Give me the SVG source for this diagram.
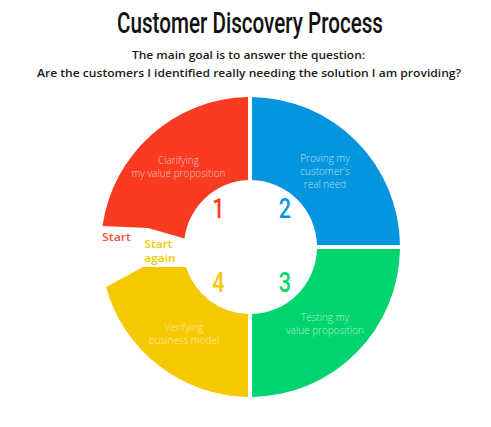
<svg xmlns="http://www.w3.org/2000/svg" width="491" height="427" viewBox="0 0 491 427">
<style>
.title{font-family:Roboto,"Liberation Sans",sans-serif;font-weight:500;font-size:29px;fill:#111}
.sub{font-family:"Open Sans","Liberation Sans",sans-serif;font-weight:600;font-size:11.5px;fill:#1a1a1a}
.lbl{font-family:"Open Sans","Liberation Sans",sans-serif;font-weight:300;font-size:10px;fill:#fff;fill-opacity:0.7;text-anchor:middle}
.num{font-family:Roboto,"Liberation Sans",sans-serif;font-weight:500;font-size:27px;text-anchor:middle}
.start{font-family:"Open Sans","Liberation Sans",sans-serif;font-weight:600;font-size:11px}
</style>
<rect width="491" height="427" fill="#fff"/>
<text class="title" x="250" y="33" text-anchor="middle" textLength="266" lengthAdjust="spacingAndGlyphs">Customer Discovery Process</text>
<text class="sub" x="248.5" y="59" text-anchor="middle" textLength="233" lengthAdjust="spacingAndGlyphs">The main goal is to answer the question:</text>
<text class="sub" x="249" y="77" text-anchor="middle" textLength="424" lengthAdjust="spacingAndGlyphs">Are the customers I identified really needing the solution I am providing?</text>
<g id="step1">
<path d="M248,97 A150,150 0 0 0 102.5,226 L148,228 L184.5,238.5 A67,67 0 0 1 248,180 Z" fill="#f83b21"/>
<text class="lbl" x="178.5" y="164">Clarifying</text>
<text class="lbl" x="178.5" y="176.5">my value proposition</text>
<text class="num" fill="#f83b21" transform="translate(218.5,218) scale(0.8,1)">1</text>
<text class="start" x="102" y="241" fill="#f5503f" textLength="29" lengthAdjust="spacingAndGlyphs">Start</text>
</g>
<g id="step2">
<path d="M252,97 A150,150 0 0 1 400,245 L317,245 A67,67 0 0 0 252,180 Z" fill="#0495df"/>
<text class="lbl" x="325" y="162">Proving my</text>
<text class="lbl" x="325" y="175">customer's</text>
<text class="lbl" x="325" y="188">real need</text>
<text class="num" fill="#0495df" transform="translate(285,218) scale(0.8,1)">2</text>
</g>
<g id="step3">
<path d="M400,249 A150,150 0 0 1 252,397 L252,314 A67,67 0 0 0 317,249 Z" fill="#00d46e"/>
<text class="lbl" x="325" y="321">Testing my</text>
<text class="lbl" x="325" y="334">value proposition</text>
<text class="num" fill="#00d46e" transform="translate(285,292) scale(0.8,1)">3</text>
</g>
<g id="step4">
<path d="M248,397 A150,150 0 0 1 106,287 L143,267 L186,267 A67,67 0 0 0 248,314 Z" fill="#f5c800"/>
<text class="lbl" x="184" y="331">Verifying</text>
<text class="lbl" x="184" y="343.5">business model</text>
<text class="num" fill="#f5c800" transform="translate(218.5,292) scale(0.8,1)">4</text>
<text class="start" x="144.5" y="248" fill="#f5c800" textLength="28" lengthAdjust="spacingAndGlyphs">Start</text>
<text class="start" x="144.5" y="262" fill="#f5c800" textLength="31" lengthAdjust="spacingAndGlyphs">again</text>
</g>
<g id="connectors"/>
</svg>
